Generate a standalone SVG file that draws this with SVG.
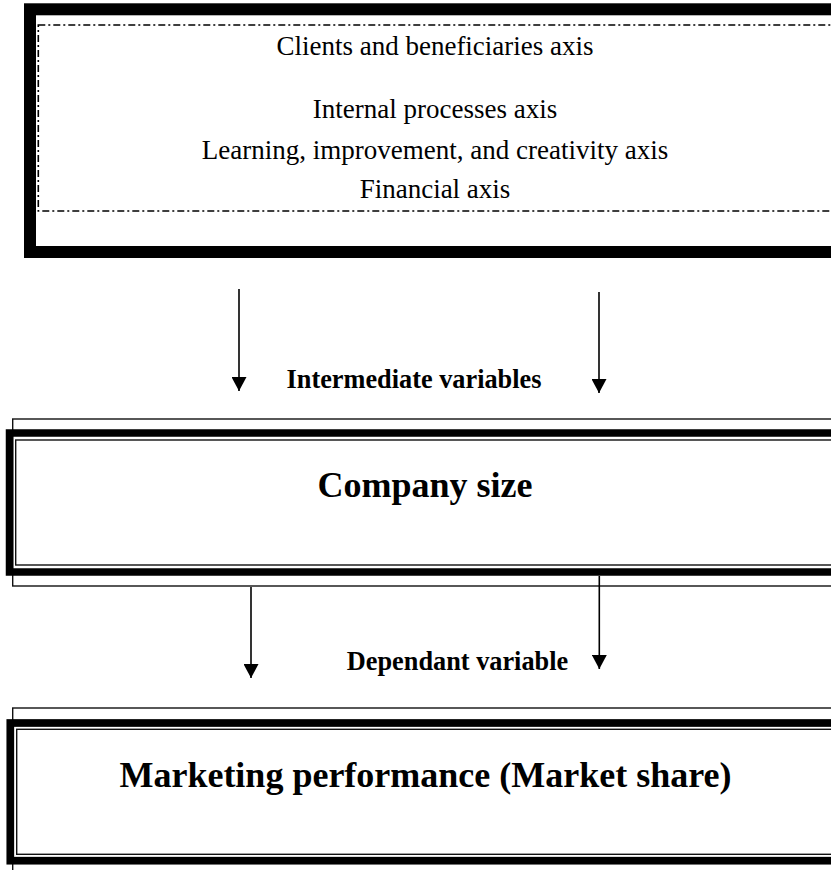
<svg xmlns="http://www.w3.org/2000/svg" width="831" height="870" viewBox="0 0 831 870">
<style>
.reg{font-family:"Liberation Serif","Times New Roman",serif;font-size:27px;fill:#000;text-anchor:middle}
.lbl{font-family:"Liberation Serif","Times New Roman",serif;font-size:26.3px;font-weight:bold;fill:#000;text-anchor:middle}
.big{font-family:"Liberation Serif","Times New Roman",serif;font-size:36px;font-weight:bold;fill:#000;text-anchor:middle}
.thick{fill:none;stroke:#000}
.thin{fill:none;stroke:#111;stroke-width:1.4}
.dash{fill:none;stroke:#000;stroke-width:1.6;stroke-dasharray:7 3 2 3}
.conn{stroke:#000;stroke-width:1.6;fill:none}
</style>
<defs>
<marker id="ah" viewBox="0 0 14 15" refX="14" refY="7.5" markerWidth="14" markerHeight="15" markerUnits="userSpaceOnUse" orient="auto">
<path d="M0,0 L14,7.5 L0,15 z" fill="#000"/>
</marker>
</defs>
<rect width="831" height="870" fill="#fff"/>
<g id="independent">
<rect class="thick" x="30" y="9.3" width="830" height="242.7" stroke-width="12"/>
<rect class="dash" x="38.3" y="25" width="820" height="186"/>
<text class="reg" x="435" y="55">Clients and beneficiaries axis</text>
<text class="reg" x="435" y="118">Internal processes axis</text>
<text class="reg" x="435" y="159">Learning, improvement, and creativity axis</text>
<text class="reg" x="435" y="198">Financial axis</text>
</g>
<g id="intermediate-label">
<text class="lbl" x="414" y="388">Intermediate variables</text>
</g>
<g id="company-size">
<rect class="thin" x="12.7" y="419" width="830" height="167"/>
<rect class="thick" x="9.5" y="433" width="830" height="139" stroke-width="7.5"/>
<rect class="thin" x="15.7" y="440" width="830" height="125"/>
<text class="big" x="425" y="497">Company size</text>
</g>
<g id="dependent-label">
<text class="lbl" x="457.5" y="670">Dependant variable</text>
</g>
<g id="marketing-performance">
<rect class="thin" x="12.7" y="708" width="830" height="180"/>
<rect class="thick" x="10.3" y="723" width="830" height="137.7" stroke-width="7.7"/>
<rect class="thin" x="16.7" y="729.3" width="830" height="125"/>
<text class="big" x="425.5" y="787">Marketing performance (Market share)</text>
</g>
<g id="connectors">
<line class="conn" x1="239" y1="289" x2="239" y2="391" marker-end="url(#ah)"/>
<line class="conn" x1="599" y1="292" x2="599" y2="393" marker-end="url(#ah)"/>
<line class="conn" x1="251" y1="587" x2="251" y2="678" marker-end="url(#ah)"/>
<line class="conn" x1="599.3" y1="576" x2="599.3" y2="669" marker-end="url(#ah)"/>
</g>
</svg>
